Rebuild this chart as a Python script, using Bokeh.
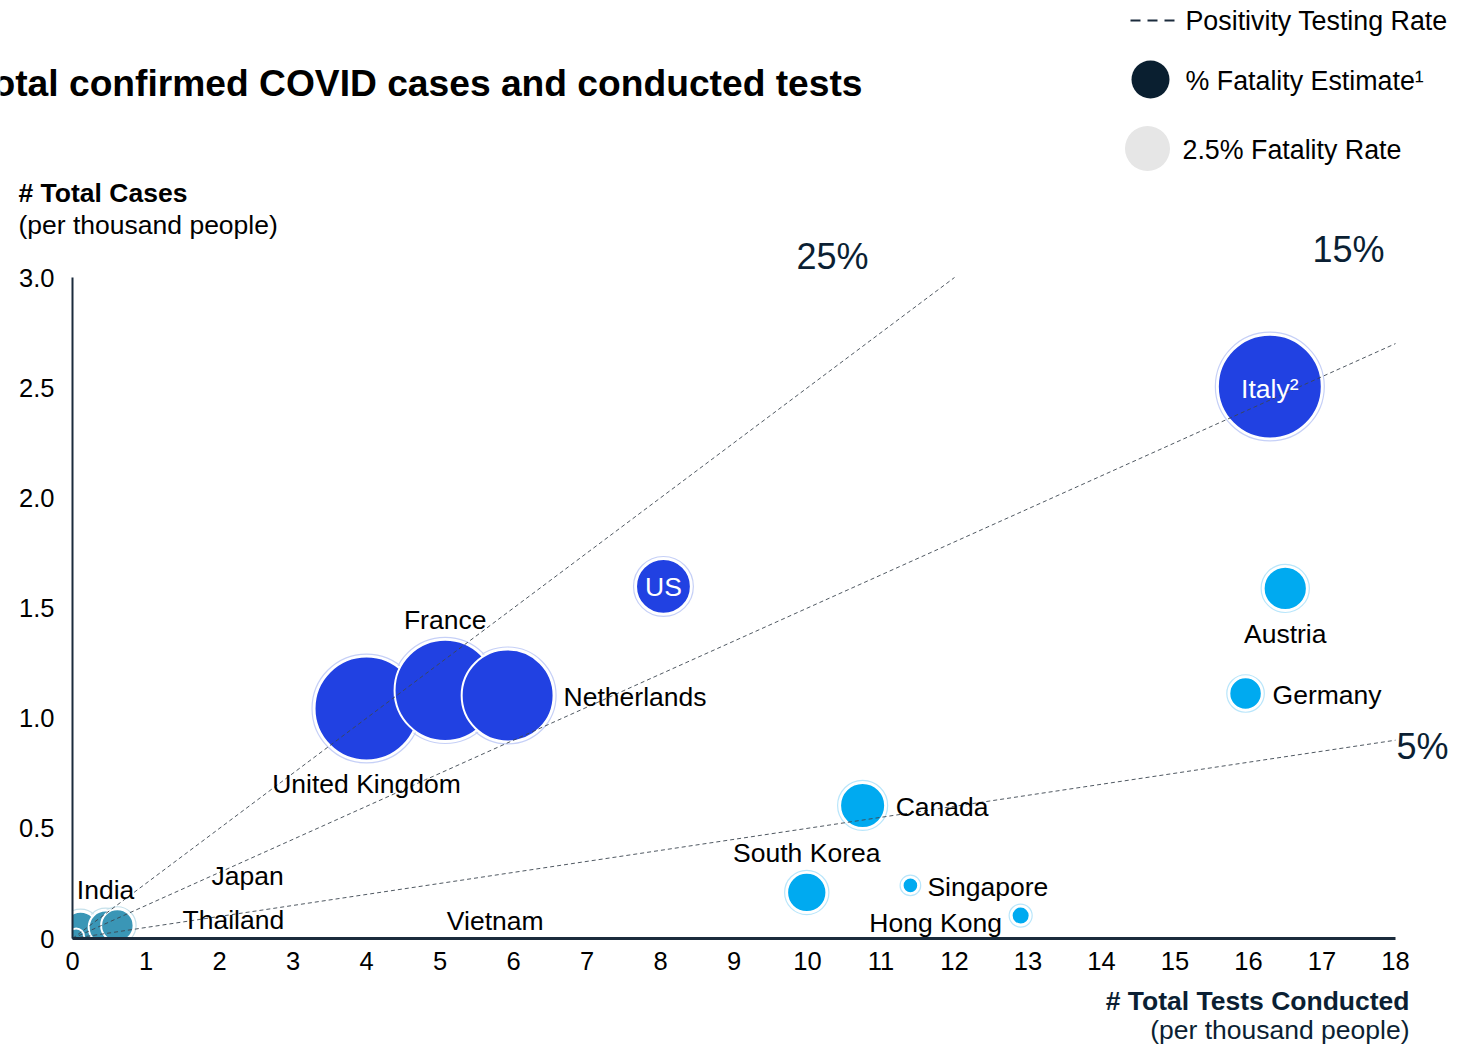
import numpy as np
from bokeh.plotting import figure
from bokeh.models import ColumnDataSource, FixedTicker
from bokeh.core.properties import value
from bokeh.embed import file_html
from bokeh.resources import INLINE

# ---------------- data ----------------
countries = ["Italy²", "US", "United Kingdom", "France", "Netherlands",
             "Austria", "Germany", "Canada", "South Korea", "Singapore", "Hong Kong",
             "India", "Japan", "Thailand", "Vietnam"]
tests_per_k = [16.29, 8.04, 4.00, 5.07, 5.92,
               16.50, 15.96, 10.75, 9.99, 11.40, 12.90,
               0.11, 0.45, 0.61, 0.05]
cases_per_k = [2.505, 1.598, 1.044, 1.126, 1.103,
               1.589, 1.112, 0.604, 0.209, 0.241, 0.104,
               0.045, 0.050, 0.059, 0.010]
fatality_pct = [13.3, 3.7, 13.3, 12.6, 10.4,
                2.3, 1.3, 2.5, 1.9, 0.3, 0.4,
                1.4, 1.4, 1.3, 0.3]
group = ["high"] * 5 + ["low"] * 6 + ["asia"] * 4

positivity_rates = [0.25, 0.15, 0.05]
positivity_labels = ["25%", "15%", "5%"]

x_ticks = list(range(0, 19))
y_ticks = [0, 0.5, 1.0, 1.5, 2.0, 2.5, 3.0]
y_tick_labels = ["0", "0.5", "1.0", "1.5", "2.0", "2.5", "3.0"]
reference_fatality = 2.5

# ---------------- styles / layout ----------------
FONT = "Liberation Sans"
W, H = 1450, 1048
X0, X1 = 72, 1395      # canvas px of x=0 and x=XMAX
Y0, Y1 = 938, 277      # canvas px of y=0 and y=YMAX
XMAX, YMAX = 18, 3
sx = XMAX / (X1 - X0)
sy = YMAX / (Y0 - Y1)
x_start = -X0 * sx
x_end = XMAX + (W - X1) * sx
y_start = -(H - Y0) * sy
y_end = YMAX + Y1 * sy


def dx(px):  # canvas px -> data x
    return x_start + px * sx


def dy(py):  # canvas px -> data y
    return y_end - py * sy


SIZE_K = 28.5
fill_map = {"high": "#2141E2", "low": "#00AAF0", "asia": "#3A96B6"}
halo_map = {"high": "#C6D0F7", "low": "#B9E6FB", "asia": "#C4E0EA"}
label_style = {
    # name: (x_offset, y_offset, align, color)
    "Italy²": (0, 2, "center", "white"),
    "US": (0, 1, "center", "white"),
    "United Kingdom": (0, 76, "center", "black"),
    "France": (0, -70, "center", "black"),
    "Netherlands": (56, 2, "left", "black"),
    "Austria": (0, 46, "center", "black"),
    "Germany": (27, 2, "left", "black"),
    "Canada": (33, 2, "left", "black"),
    "South Korea": (0, -39, "center", "black"),
    "Singapore": (17, 2, "left", "black"),
    "Hong Kong": (-85, 7, "center", "black"),
    "India": (25, -39, "center", "black"),
    "Japan": (142, -51, "center", "black"),
    "Thailand": (116, -6, "center", "black"),
    "Vietnam": (419, -15, "center", "black"),
}

p = figure(frame_width=W, frame_height=H, x_range=(x_start, x_end), y_range=(y_start, y_end),
           output_backend="svg", toolbar_location=None, min_border=0,
           outline_line_color=None, background_fill_color="white", border_fill_color="white")
p.grid.visible = False

xa = p.xaxis[0]
ya = p.yaxis[0]
xa.fixed_location = 0
ya.fixed_location = 0
xa.bounds = (0, XMAX)
ya.bounds = (0, YMAX)
xa.ticker = FixedTicker(ticks=x_ticks)
ya.ticker = FixedTicker(ticks=y_ticks)
ya.major_label_overrides = {t: l for t, l in zip(y_ticks, y_tick_labels)}
xa.major_label_overrides = {t: str(t) for t in x_ticks}
for ax in (xa, ya):
    ax.major_tick_line_color = None
    ax.minor_tick_line_color = None
    ax.major_tick_in = 0
    ax.major_tick_out = 0
    ax.major_label_text_font = FONT
    ax.major_label_text_font_size = "25.5px"
    ax.major_label_text_color = "#000000"
    ax.axis_line_color = "#1B2B3C"
ya.axis_line_width = 2
xa.axis_line_width = 3
ya.major_label_standoff = 18
xa.major_label_standoff = 13

# bubbles
sizes = [SIZE_K * np.sqrt(f) for f in fatality_pct]
src = ColumnDataSource(dict(
    x=tests_per_k, y=cases_per_k, size=sizes, halo=[s + 5 for s in sizes],
    color=[fill_map[g] for g in group], halo_color=[halo_map[g] for g in group],
    name=countries,
    xo=[label_style[c][0] for c in countries], yo=[label_style[c][1] for c in countries],
    align=[label_style[c][2] for c in countries], tcolor=[label_style[c][3] for c in countries],
))
p.scatter("x", "y", size="halo", source=src, fill_color=None, line_color="halo_color", line_width=1.2)
p.scatter("x", "y", size="size", source=src, fill_color="color", line_color="white", line_width=2)

# clip bubbles at the axes (masks outside the data area)
p.quad(left=x_start, right=x_end, bottom=y_start, top=0, fill_color="white", line_color=None)
p.quad(left=x_start, right=0, bottom=y_start, top=YMAX, fill_color="white", line_color=None)

# positivity lines
lx = [min(XMAX, YMAX / r) for r in positivity_rates]
ly = [r * xe for r, xe in zip(positivity_rates, lx)]
lsrc = ColumnDataSource(dict(x0=[0] * len(lx), y0=[0] * len(lx), x1=lx, y1=ly, lab=positivity_labels,
                             xo=[-122, -47, 53], yo=[-21, -94, 6],
                             al=["center", "center", "right"]))
p.segment("x0", "y0", "x1", "y1", source=lsrc, line_color="#3C4650", line_width=0.9, line_dash="4 3")
p.text("x1", "y1", text="lab", source=lsrc, x_offset="xo", y_offset="yo",
       text_font=value(FONT), text_font_size=value("36px"), text_color="#0B1F33",
       text_align="al", text_baseline="middle")

# country labels
p.text("x", "y", text="name", source=src, x_offset="xo", y_offset="yo", text_align="align",
       text_color="tcolor", text_font=value(FONT), text_font_size=value("26.5px"),
       text_baseline="middle")

# title (left edge runs off the page as in the reference)
p.text(x=[dx(862)], y=[dy(82)], text=["Total confirmed COVID cases and conducted tests"],
       text_font=value(FONT), text_font_size=value("37.2px"), text_font_style="bold",
       text_color="#000000", text_align="right", text_baseline="middle")

# axis titles
p.text(x=[dx(18)], y=[dy(192)], text=["# Total Cases"], text_font=value(FONT),
       text_font_size=value("26.5px"), text_font_style="bold", text_color="#000000",
       text_align="left", text_baseline="middle")
p.text(x=[dx(18)], y=[dy(224)], text=["(per thousand people)"], text_font=value(FONT),
       text_font_size=value("26.5px"), text_color="#000000",
       text_align="left", text_baseline="middle")
p.text(x=[dx(1409)], y=[dy(1000)], text=["# Total Tests Conducted"], text_font=value(FONT),
       text_font_size=value("26.5px"), text_font_style="bold", text_color="#0B1F33",
       text_align="right", text_baseline="middle")
p.text(x=[dx(1409)], y=[dy(1029)], text=["(per thousand people)"], text_font=value(FONT),
       text_font_size=value("26.5px"), text_color="#0B1F33",
       text_align="right", text_baseline="middle")

# legend
p.segment(x0=[dx(1130)], y0=[dy(20)], x1=[dx(1178)], y1=[dy(20)], line_color="#1B2B3C",
          line_width=2, line_dash="10 7")
p.scatter(x=[dx(1150)], y=[dy(79)], size=38, fill_color="#0A1F30", line_color=None)
p.scatter(x=[dx(1147)], y=[dy(148)], size=SIZE_K * np.sqrt(reference_fatality),
          fill_color="#E6E6E6", line_color=None)
p.text(x=[dx(1185), dx(1185), dx(1182)], y=[dy(20), dy(80), dy(149)],
       text=["Positivity Testing Rate", "% Fatality Estimate¹", "2.5% Fatality Rate"],
       text_font=value(FONT), text_font_size=value("26.8px"), text_color="#000000",
       text_align="left", text_baseline="middle")

open("out.html", "w").write(file_html(p, INLINE))
